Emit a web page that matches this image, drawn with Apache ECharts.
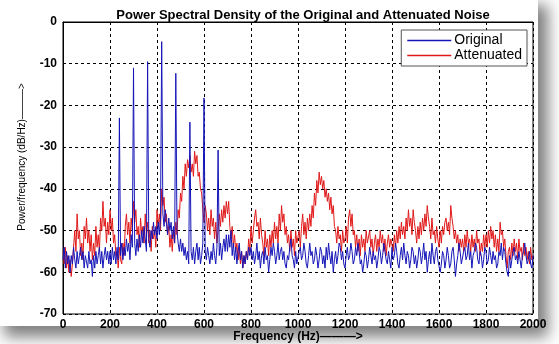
<!DOCTYPE html>
<html>
<head>
<meta charset="utf-8">
<script src="https://cdn.jsdelivr.net/npm/echarts/dist/echarts.min.js"></script>
<style>
  html, body { margin: 0; padding: 0; background: #fff; }
  #card { position: absolute; left: 0; top: 0; width: 538px; height: 326px; background: #fff;
          box-shadow: 7px 8px 14px 3px rgba(0,0,0,0.5); }
  #psd { position: absolute; left: 0; top: 0; width: 559px; height: 344px; }
</style>
</head>
<body>
<div id="card"></div>
<div id="psd"></div>
<script>
// 频率步长 (Hz)
var freqStep = 5;

// 原始噪声 PSD (dB/Hz), 0 ~ 2000 Hz, 每行 100 Hz
var originalDb = [
  -57,-54,-59,-55,-58,-56,-60,-56,-58,-54,-57,-59,-55,-58,-56,-54,-57,-55,-59,-56,
  -56,-59,-55,-58,-57,-61,-56,-59,-55,-58,-56,-54,-58,-55,-59,-56,-54,-57,-55,-58,
  -55,-58,-54,-57,-55,-58,-54,-57,-23,-56,-53,-57,-54,-56,-52,-55,-53,-57,-51,-54,
  -11,-53,-56,-52,-55,-51,-54,-50,-53,-49,-52,-55,-9.5,-52,-54,-50,-52,-48,-51,-49,
  -52,-48,-51,-47,-4.7,-46,-49,-45,-48,-51,-47,-50,-48,-52,-49,-53,-12.3,-50,-53,-55,
  -52,-55,-53,-56,-54,-57,-55,-58,-24,-55,-57,-54,-58,-55,-53,-57,-54,-58,-56,-53,
  -18.2,-55,-57,-54,-56,-58,-55,-57,-53,-56,-58,-54,-30.7,-56,-53,-57,-54,-52,-55,-51,
  -55,-51,-54,-50,-56,-53,-57,-54,-58,-55,-53,-57,-55,-59,-56,-58,-55,-57,-54,-56,
  -54,-57,-55,-58,-56,-53,-57,-55,-59,-56,-55,-58,-54,-57,-56,-60,-57,-54,-56,-53,
  -55,-58,-56,-53,-57,-55,-54,-57,-55,-58,-59,-56,-57,-54,-52,-56,-57,-59,-55,-58,
  -58,-55,-54,-57,-56,-53,-55,-58,-59,-56,-53,-56,-55,-58,-57,-54,-56,-59,-57,-54,
  -55,-58,-56,-59,-54,-57,-53,-56,-58,-55,-60,-57,-55,-58,-56,-53,-54,-57,-55,-58,
  -59,-56,-54,-57,-56,-53,-55,-58,-57,-54,-56,-53,-55,-58,-57,-60,-58,-55,-56,-59,
  -57,-54,-56,-58,-55,-57,-56,-59,-57,-54,-55,-58,-56,-53,-55,-57,-58,-55,-57,-59,
  -54,-57,-56,-53,-55,-58,-59,-56,-54,-57,-53,-56,-58,-55,-56,-59,-57,-54,-55,-58,
  -56,-59,-57,-54,-55,-58,-56,-53,-57,-55,-60,-57,-55,-58,-53,-56,-58,-55,-54,-57,
  -57,-60,-58,-55,-56,-59,-57,-54,-56,-59,-58,-55,-54,-57,-61,-58,-56,-53,-55,-58,
  -58,-55,-54,-57,-56,-53,-57,-55,-59,-56,-55,-53,-54,-57,-58,-55,-56,-59,-57,-54,
  -55,-58,-57,-54,-56,-58,-55,-57,-56,-59,-58,-55,-56,-53,-57,-54,-55,-58,-60,-61,
  -56,-59,-57,-55,-54,-57,-56,-58,-55,-57,-59,-56,-55,-53,-56,-58,-57,-55,-58,-59,
  -56
];

// 衰减后噪声 PSD (dB/Hz)
var attenuatedDb = [
  -55,-58,-54,-59,-56,-60,-57,-61,-58,-54,-50,-55,-46,-52,-50,-56,-53,-57,-49,-52,
  -47,-53,-50,-55,-51,-57,-53,-56,-49,-54,-51,-55,-47,-50,-43,-49,-47,-53,-48,-51,
  -45,-50,-47,-53,-51,-56,-55,-59,-54,-57,-58,-53,-56,-49,-46,-51,-48,-53,-47,-50,
  -43,-48,-45,-51,-49,-54,-47,-51,-49,-53,-46,-51,-48,-53,-50,-55,-49,-52,-50,-54,
  -45,-49,-46,-50,-40,-44,-42,-48,-46,-51,-49,-54,-51,-55,-50,-53,-48,-51,-45,-47,
  -41,-43,-37,-40,-34,-37,-33,-35,-32,-36,-34,-37,-31,-34,-32,-37,-36,-40,-41,-45,
  -48,-44,-46,-50,-47,-51,-45,-49,-47,-52,-48,-53,-50,-46,-49,-45,-48,-44,-47,-43,
  -46,-43,-49,-52,-49,-54,-51,-55,-53,-57,-54,-58,-55,-59,-56,-58,-55,-57,-52,-55,
  -49,-53,-50,-47,-45,-49,-48,-52,-47,-51,-53,-56,-50,-54,-52,-56,-51,-54,-50,-53,
  -48,-52,-49,-53,-46,-50,-44,-48,-46,-51,-49,-53,-51,-55,-50,-54,-52,-56,-50,-53,
  -53,-50,-54,-49,-46,-51,-48,-52,-47,-50,-46,-49,-44,-47,-41,-44,-38,-41,-36,-39,
  -37,-40,-38,-42,-40,-43,-41,-45,-42,-46,-44,-49,-50,-53,-49,-52,-51,-55,-50,-53,
  -52,-49,-53,-47,-45,-49,-46,-51,-50,-54,-51,-55,-52,-56,-51,-54,-52,-55,-50,-53,
  -53,-50,-54,-52,-56,-53,-51,-55,-52,-54,-50,-53,-51,-55,-52,-56,-53,-51,-54,-52,
  -52,-55,-51,-54,-50,-53,-49,-52,-48,-51,-49,-52,-47,-50,-45,-49,-47,-51,-45,-48,
  -50,-53,-49,-52,-48,-51,-47,-50,-46,-49,-44,-47,-49,-52,-47,-51,-50,-53,-49,-52,
  -54,-50,-53,-49,-51,-48,-47,-50,-48,-51,-44,-47,-49,-52,-50,-53,-51,-55,-52,-54,
  -52,-55,-51,-54,-50,-53,-52,-55,-51,-54,-52,-55,-50,-53,-52,-56,-53,-55,-51,-54,
  -51,-54,-50,-53,-49,-52,-50,-54,-51,-55,-52,-55,-48,-51,-50,-54,-52,-56,-59,-55,
  -54,-57,-53,-56,-52,-55,-53,-57,-52,-55,-54,-57,-53,-56,-54,-57,-55,-58,-54,-57,
  -56
];

var seriesNames = ['Original', 'Attenuated'];
var seriesColors = ['#1414b8', '#e01818'];

function toPairs(arr){
  var out = [];
  for (var i = 0; i < arr.length; i++) {
    out.push([i * freqStep, arr[i]]);
  }
  return out;
}

var psdChart = echarts.init(document.getElementById('psd'));
var boldTick = { color: '#000', fontFamily: 'Liberation Sans', fontWeight: 'bold', fontSize: 12 };
var dashed = { show: true, lineStyle: { color: '#000', type: [3, 3], width: 1 } };

var option = {
  backgroundColor: 'transparent',
  animation: false,
  title: {
    text: 'Power Spectral Density of the Original and Attenuated Noise',
    left: 298, top: 4, textAlign: 'center',
    textStyle: { fontFamily: 'Liberation Sans', fontWeight: 'bold', fontSize: 13, color: '#000' }
  },
  legend: {
    data: seriesNames,
    orient: 'vertical',
    right: 32, top: 30,
    icon: 'rect', itemWidth: 44, itemHeight: 1.5, itemGap: 0,
    padding: [3, 5, 3, 6],
    backgroundColor: '#fff', borderColor: '#555', borderWidth: 1,
    textStyle: { fontFamily: 'Liberation Sans', fontSize: 14, lineHeight: 15, color: '#000', padding: [0, 0, 0, -2] }
  },
  grid: {
    left: 63, right: 26, top: 22, bottom: 30,
    outerBoundsMode: 'none', containLabel: false,
    show: true, borderColor: '#000', borderWidth: 1
  },
  xAxis: {
    type: 'value', min: 0, max: 2000, interval: 200,
    name: 'Frequency (Hz)———>', nameLocation: 'middle', nameGap: 17, nameMoveOverlap: false,
    nameTextStyle: { fontFamily: 'Liberation Sans', fontWeight: 'bold', fontSize: 12, color: '#000' },
    axisLine: { lineStyle: { color: '#000' } },
    axisTick: { show: false },
    axisLabel: Object.assign({ margin: 5, formatter: function(v){ return String(v); } }, boldTick),
    splitLine: dashed
  },
  yAxis: {
    type: 'value', min: -70, max: 0, interval: 10,
    axisLine: { lineStyle: { color: '#000' } },
    axisTick: { show: false },
    axisLabel: Object.assign({ margin: 6 }, boldTick),
    splitLine: dashed
  },
  graphic: [{
    type: 'text', x: 22, y: 157, rotation: Math.PI / 2,
    style: {
      text: 'Power/frequency (dB/Hz)———>',
      fill: '#000', font: '10px "Liberation Sans"',
      align: 'center', verticalAlign: 'middle'
    }
  }],
  series: [
    {
      name: seriesNames[0], type: 'line', data: toPairs(originalDb),
      symbol: 'none', color: seriesColors[0], lineStyle: { width: 1 }, z: 3
    },
    {
      name: seriesNames[1], type: 'line', data: toPairs(attenuatedDb),
      symbol: 'none', color: seriesColors[1], lineStyle: { width: 1 }, z: 2
    }
  ]
};
psdChart.setOption(option);
</script>
</body>
</html>
